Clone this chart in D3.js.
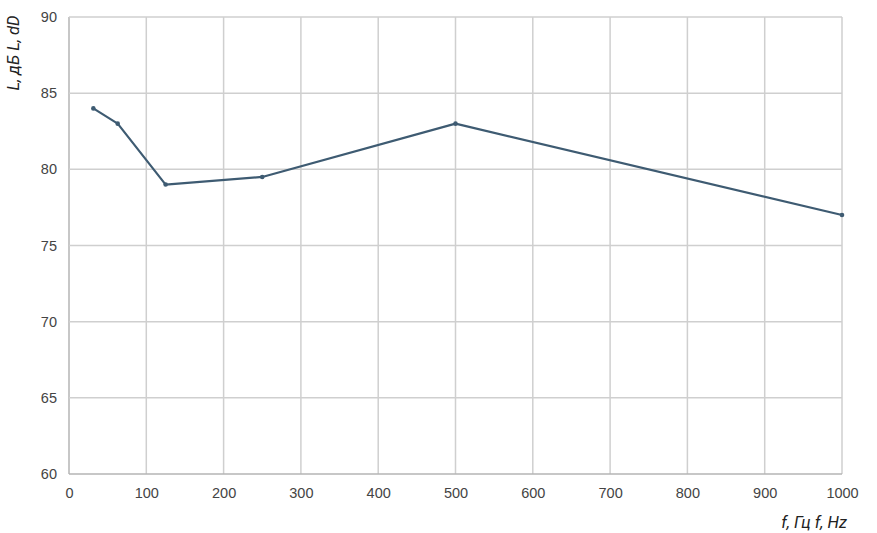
<!DOCTYPE html>
<html><head><meta charset="utf-8">
<script src="https://cdn.jsdelivr.net/npm/d3@7"></script>
<style>body{margin:0;background:#fff}</style>
</head><body>
<script>
const freq = [31.5, 63, 125, 250, 500, 1000];
const level = [84, 83, 79, 79.5, 83, 77];
const xTicks = [0,100,200,300,400,500,600,700,800,900,1000];
const yTicks = [60,65,70,75,80,85,90];
const yLabel = "L, дБ L, dD";
const xLabel = "f, Гц f, Hz";

const W = 877, H = 533;
const m = {left:69, right:35, top:17, bottom:59};
const svg = d3.select("body").append("svg").attr("width",W).attr("height",H);
const x = d3.scaleLinear().domain([0,1000]).range([m.left, W-m.right]);
const y = d3.scaleLinear().domain([60,90]).range([H-m.bottom, m.top]);

const g = svg.append("g");
g.selectAll(".vg").data(xTicks).join("line")
  .attr("x1",d=>x(d)).attr("x2",d=>x(d)).attr("y1",y(60)).attr("y2",y(90))
  .attr("stroke",d=>d===0?"#b5b5b5":"#cfcfcf").attr("stroke-width",1.5);
g.selectAll(".hg").data(yTicks).join("line")
  .attr("x1",x(0)).attr("x2",x(1000)).attr("y1",d=>y(d)).attr("y2",d=>y(d))
  .attr("stroke",d=>d===60?"#b5b5b5":"#cfcfcf").attr("stroke-width",1.5);

const xa = svg.append("g").attr("transform",`translate(0,${y(60)})`)
  .call(d3.axisBottom(x).tickValues(xTicks).tickSize(0).tickPadding(14).tickFormat(d3.format("d")));
const ya = svg.append("g").attr("transform",`translate(${x(0)},0)`)
  .call(d3.axisLeft(y).tickValues(yTicks).tickSize(0).tickPadding(12));
[xa,ya].forEach(a=>{a.select(".domain").remove();
  a.selectAll("text").attr("font-family","Liberation Sans, Arial, sans-serif").attr("font-size",14.5).attr("fill","#444");});

const line = d3.line().x((d,i)=>x(freq[i])).y(d=>y(d));
svg.append("path").datum(level).attr("d",line).attr("fill","none")
  .attr("stroke","#3e5b72").attr("stroke-width",2.2).attr("stroke-linejoin","round");
svg.selectAll(".pt").data(level).join("circle")
  .attr("cx",(d,i)=>x(freq[i])).attr("cy",d=>y(d)).attr("r",2.3).attr("fill","#3e5b72");

svg.append("text").attr("transform",`translate(19,53) rotate(-90)`)
  .attr("text-anchor","middle").attr("font-family","Liberation Sans Narrow, Roboto, sans-serif")
  .attr("font-style","italic").attr("font-size",16.5).attr("fill","#222").text(yLabel);
svg.append("text").attr("x",814).attr("y",528).attr("text-anchor","middle")
  .attr("font-family","Liberation Sans Narrow, Roboto, sans-serif")
  .attr("font-style","italic").attr("font-size",16.5).attr("fill","#222").text(xLabel);
</script>
</body></html>
